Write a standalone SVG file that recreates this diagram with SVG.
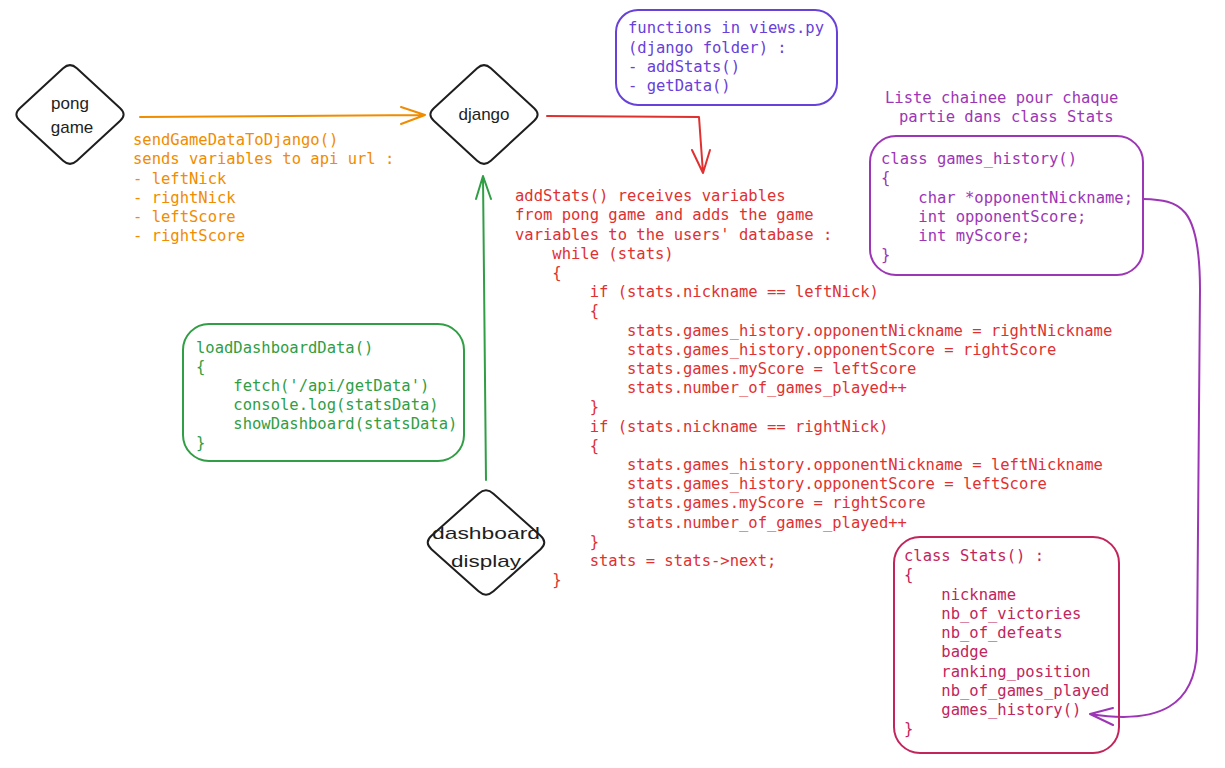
<svg xmlns="http://www.w3.org/2000/svg" width="1225" height="768" viewBox="0 0 1225 768">
<style>
text{font-family:"DejaVu Sans Mono","Liberation Mono",monospace;font-size:15.5px;white-space:pre}
.hand{font-family:"Liberation Sans","DejaVu Sans",sans-serif;font-size:17px;fill:#1e1e1e;text-anchor:middle}
.dia{fill:#fff;stroke:#1e1e1e;stroke-width:2}
.box{fill:none;stroke-width:2}
.ln{fill:none;stroke-width:2;stroke-linecap:round;stroke-linejoin:round}
.o{fill:#f08c00}.r{fill:#e03131}.g{fill:#2f9e44}.b{fill:#6741d9}.p{fill:#9c36b5}.c{fill:#c2255c}
</style>
<defs>
<path id="d1" d="M-50.2,-6.3 L-6.84,-46.2 Q0,-52.5 6.84,-46.2 L50.2,-6.3 Q57,0 50.2,6.3 L6.84,46.2 Q0,52.5 -6.84,46.2 L-50.2,6.3 Q-57,0 -50.2,-6.3Z"/>
</defs>
<rect width="1225" height="768" fill="#fff"/>
<g id="connectors">
<path class="ln" stroke="#f08c00" d="M140,117 L425,115 M401,107 L425,115 L401,124"/>
<path class="ln" stroke="#e03131" d="M547,116 L699,117 L703,173 M692,150 L703,173 L710,150"/>
<path class="ln" stroke="#2f9e44" d="M486,480 L483,176 M476,199 L483,176 L491,199"/>
<path class="ln" stroke="#9c36b5" d="M1143,199 C1180,200 1200,205 1200,290 L1197,650 C1195,705 1160,725 1090,714 M1113,708 L1090,714 L1113,725"/>
</g>
<g id="pong-game">
<use href="#d1" class="dia" transform="translate(70,114.5)"/>
<text class="hand" x="70" y="109">pong</text>
<text class="hand" x="72" y="133">game</text>
</g>
<g id="django">
<use href="#d1" class="dia" transform="translate(484,114.5)"/>
<text class="hand" x="484" y="120">django</text>
</g>
<g id="dashboard-display">
<path class="dia" transform="translate(486,542.5)" d="M-54.56,-6.66 L-7.44,-48.84 Q0,-55.5 7.44,-48.84 L54.56,-6.66 Q62,0 54.56,6.66 L7.44,48.84 Q0,55.5 -7.44,48.84 L-54.56,6.66 Q-62,0 -54.56,-6.66Z"/>
<text class="hand" x="486" y="539" textLength="108" lengthAdjust="spacingAndGlyphs">dashboard</text>
<text class="hand" x="486" y="567" textLength="70" lengthAdjust="spacingAndGlyphs">display</text>
</g>
<g id="send-label">
<text class="o" x="133" y="145">sendGameDataToDjango()</text>
<text class="o" x="133" y="164">sends variables to api url :</text>
<text class="o" x="133" y="184">- leftNick</text>
<text class="o" x="133" y="203">- rightNick</text>
<text class="o" x="133" y="222">- leftScore</text>
<text class="o" x="133" y="241">- rightScore</text>
</g>
<g id="functions-box">
<rect class="box" stroke="#6741d9" x="616" y="10" width="221" height="95" rx="22"/>
<text class="b" x="628" y="33">functions in views.py</text>
<text class="b" x="628" y="53">(django folder) :</text>
<text class="b" x="628" y="72">- addStats()</text>
<text class="b" x="628" y="91">- getData()</text>
</g>
<g id="add-stats">
<text class="r" x="515" y="201">addStats() receives variables</text>
<text class="r" x="515" y="220">from pong game and adds the game</text>
<text class="r" x="515" y="240">variables to the users' database :</text>
<text class="r" x="515" y="259">    while (stats)</text>
<text class="r" x="515" y="278">    {</text>
<text class="r" x="515" y="297">        if (stats.nickname == leftNick)</text>
<text class="r" x="515" y="316">        {</text>
<text class="r" x="515" y="336">            stats.games_history.opponentNickname = rightNickname</text>
<text class="r" x="515" y="355">            stats.games_history.opponentScore = rightScore</text>
<text class="r" x="515" y="374">            stats.games.myScore = leftScore</text>
<text class="r" x="515" y="393">            stats.number_of_games_played++</text>
<text class="r" x="515" y="412">        }</text>
<text class="r" x="515" y="432">        if (stats.nickname == rightNick)</text>
<text class="r" x="515" y="451">        {</text>
<text class="r" x="515" y="470">            stats.games_history.opponentNickname = leftNickname</text>
<text class="r" x="515" y="489">            stats.games_history.opponentScore = leftScore</text>
<text class="r" x="515" y="508">            stats.games.myScore = rightScore</text>
<text class="r" x="515" y="528">            stats.number_of_games_played++</text>
<text class="r" x="515" y="547">        }</text>
<text class="r" x="515" y="566">        stats = stats-&gt;next;</text>
<text class="r" x="515" y="585">    }</text>
</g>
<g id="liste-label">
<text class="p" x="885" y="103">Liste chainee pour chaque</text>
<text class="p" x="899" y="122">partie dans class Stats</text>
</g>
<g id="games-history-box">
<rect class="box" stroke="#9c36b5" x="870" y="136" width="273" height="139" rx="26"/>
<text class="p" x="881" y="164">class games_history()</text>
<text class="p" x="881" y="183">{</text>
<text class="p" x="881" y="203">    char *opponentNickname;</text>
<text class="p" x="881" y="222">    int opponentScore;</text>
<text class="p" x="881" y="241">    int myScore;</text>
<text class="p" x="881" y="260">}</text>
</g>
<g id="dashboard-box">
<rect class="box" stroke="#2f9e44" x="183" y="324" width="281" height="137" rx="26"/>
<text class="g" x="196" y="353">loadDashboardData()</text>
<text class="g" x="196" y="372">{</text>
<text class="g" x="196" y="391">    fetch('/api/getData')</text>
<text class="g" x="196" y="410">    console.log(statsData)</text>
<text class="g" x="196" y="429">    showDashboard(statsData)</text>
<text class="g" x="196" y="448">}</text>
</g>
<g id="stats-box">
<rect class="box" stroke="#c2255c" x="894" y="537" width="225" height="216" rx="26"/>
<text class="c" x="904" y="561">class Stats() :</text>
<text class="c" x="904" y="580">{</text>
<text class="c" x="904" y="600">    nickname</text>
<text class="c" x="904" y="619">    nb_of_victories</text>
<text class="c" x="904" y="638">    nb_of_defeats</text>
<text class="c" x="904" y="657">    badge</text>
<text class="c" x="904" y="677">    ranking_position</text>
<text class="c" x="904" y="696">    nb_of_games_played</text>
<text class="c" x="904" y="715">    games_history()</text>
<text class="c" x="904" y="734">}</text>
</g>
</svg>
